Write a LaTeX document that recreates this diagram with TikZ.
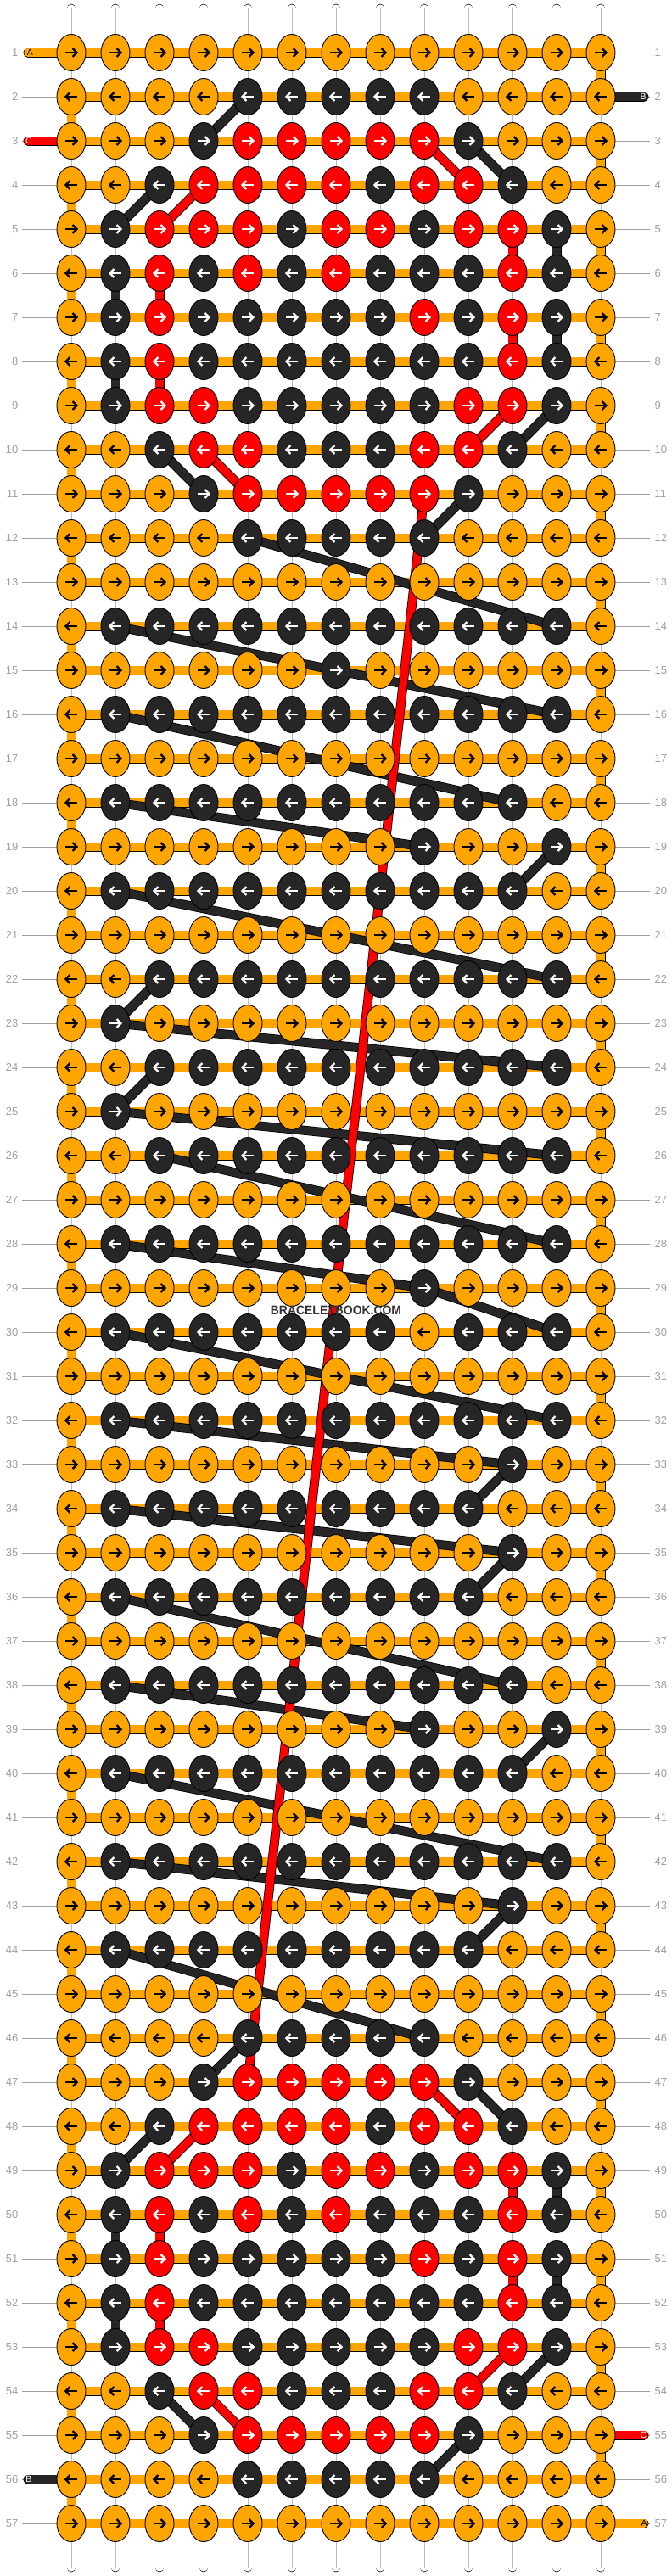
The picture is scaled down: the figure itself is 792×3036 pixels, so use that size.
\documentclass[tikz,border=0pt]{standalone}
\usepackage{fontspec}
\setmainfont{Liberation Sans}
\usetikzlibrary{shapes.geometric}
\definecolor{kcO}{HTML}{FFA500}
\definecolor{kcB}{HTML}{262626}
\definecolor{kcR}{HTML}{FF0000}
\definecolor{acO}{HTML}{000000}
\definecolor{acB}{HTML}{FFFFFF}
\definecolor{acR}{HTML}{FFFFFF}
\definecolor{labgray}{HTML}{A0A0A0}
\definecolor{strgray}{HTML}{BBBBBB}
\definecolor{wmgray}{HTML}{333333}
\tikzset{
  strO/.style={draw=black, line width=0.8pt, double=kcO, double distance=9.4pt},
  strB/.style={draw=black, line width=0.8pt, double=kcB, double distance=9.4pt},
  strR/.style={draw=black, line width=0.8pt, double=kcR, double distance=9.4pt},
  strW/.style={draw=black, line width=0.8pt, double=white, double distance=9.2pt, line cap=round},
  knot/.style={ellipse, draw=black, line width=0.9pt, minimum width=34pt, minimum height=43pt, inner sep=0pt},
  rowlab/.style={text=labgray, font=\fontsize{13}{13}\selectfont, inner sep=0pt},
  labline/.style={draw=labgray, line width=1pt},
  extlab/.style={font=\fontsize{10.5}{10.5}\selectfont, inner sep=0pt},
}
\begin{document}
\begin{tikzpicture}[x=1pt,y=-1pt]
\useasboundingbox (0,0) rectangle (792,3036);
\fill[white] (0,0) rectangle (792,3036);
% knot positions
\foreach \r in {1,...,57}{\foreach \cc in {1,...,13}{\coordinate (p\r-\cc) at ({32+52*\cc},{10+52*\r});}}
% white vertical strands
\foreach \cc in {1,...,13}{
  \coordinate (t\cc) at ({32+52*\cc},10);
  \coordinate (b\cc) at ({32+52*\cc},3026);
  \draw[strW] (t\cc) -- (b\cc);
  \draw[strgray, line width=0.7pt] (t\cc) -- (b\cc);
}
% label lines
\foreach \r in {1,...,57}{
  \pgfmathsetmacro\yy{10+52*\r}
  \coordinate (gl\r) at (26,\yy);
  \coordinate (gr\r) at (766,\yy);
  \draw[labline] (gl\r) -- (p\r-1);
  \draw[labline] (p\r-13) -- (gr\r);
}
% horizontal bands
\foreach \r in {1,...,57}{\draw[strO] (p\r-1) -- (p\r-13);}
% edge turns
\foreach \r [evaluate=\r as \rn using int(\r+1)] in {2,4,...,56}{\draw[strO] (p\r-1) -- (p\rn-1);}
\foreach \r [evaluate=\r as \rn using int(\r+1)] in {1,3,...,55}{\draw[strO] (p\r-13) -- (p\rn-13);}
% black strand
\foreach \ua/\ub in {2-5/3-4, 3-10/4-11, 4-3/5-2, 5-12/6-12, 6-2/7-2, 7-12/8-12, 8-2/9-2, 9-12/10-11, 10-3/11-4, 11-10/12-9, 12-5/14-12, 14-2/15-7, 15-7/16-12, 16-2/18-11, 18-2/19-9, 19-12/20-11, 20-2/22-12, 22-3/23-2, 23-2/24-12, 24-3/25-2, 25-2/26-12, 26-3/28-12, 28-2/29-9, 29-9/30-12, 30-2/32-12, 32-2/33-11, 33-11/34-10, 34-2/35-11, 35-11/36-10, 36-2/38-11, 38-2/39-9, 39-12/40-11, 40-2/42-12, 42-2/43-11, 43-11/44-10, 44-2/46-9, 46-5/47-4, 47-10/48-11, 48-3/49-2, 49-12/50-12, 50-2/51-2, 51-12/52-12, 52-2/53-2, 53-12/54-11, 54-3/55-4, 55-10/56-9}{\draw[strB] (p\ua) -- (p\ub);}
% red strand
\foreach \ua/\ub in {3-9/4-10, 4-4/5-3, 5-11/6-11, 6-3/7-3, 7-11/8-11, 8-3/9-3, 9-11/10-10, 10-4/11-5, 11-9/47-5, 47-9/48-10, 48-4/49-3, 49-11/50-11, 50-3/51-3, 51-11/52-11, 52-3/53-3, 53-11/54-10, 54-4/55-5}{\draw[strR] (p\ua) -- (p\ub);}
% strand ends
\coordinate (xA1) at (33,62);
\coordinate (xC3) at (33,166);
\coordinate (xB56) at (33,2922);
\coordinate (xB2) at (759,114);
\coordinate (xC55) at (759,2870);
\coordinate (xA57) at (759,2974);
\draw[strO, line cap=round] (xA1) -- (p1-1);
\draw[strR, line cap=round] (xC3) -- (p3-1);
\draw[strB, line cap=round] (xB56) -- (p56-1);
\draw[strB, line cap=round] (p2-13) -- (xB2);
\draw[strR, line cap=round] (p55-13) -- (xC55);
\draw[strO, line cap=round] (p57-13) -- (xA57);
\node[extlab, text=black] (lA1) at (35.5,62) {A};
\node[extlab, text=white] (lC3) at (34,166) {C};
\node[extlab, text=white] (lB56) at (34,2922) {B};
\node[extlab, text=white] (lB2) at (758,114) {B};
\node[extlab, text=white] (lC55) at (758.5,2870) {C};
\node[extlab, text=black] (lA57) at (759,2974) {A};
% knots
\foreach \r/\s in {
1/{O,O,O,O,O,O,O,O,O,O,O,O,O},
2/{O,O,O,O,B,B,B,B,B,O,O,O,O},
3/{O,O,O,B,R,R,R,R,R,B,O,O,O},
4/{O,O,B,R,R,R,R,B,R,R,B,O,O},
5/{O,B,R,R,R,B,R,R,B,R,R,B,O},
6/{O,B,R,B,R,B,R,B,B,B,R,B,O},
7/{O,B,R,B,B,B,B,B,R,B,R,B,O},
8/{O,B,R,B,B,B,B,B,B,B,R,B,O},
9/{O,B,R,R,B,B,B,B,B,R,R,B,O},
10/{O,O,B,R,R,B,B,B,R,R,B,O,O},
11/{O,O,O,B,R,R,R,R,R,B,O,O,O},
12/{O,O,O,O,B,B,B,B,B,O,O,O,O},
13/{O,O,O,O,O,O,O,O,O,O,O,O,O},
14/{O,B,B,B,B,B,B,B,B,B,B,B,O},
15/{O,O,O,O,O,O,B,O,O,O,O,O,O},
16/{O,B,B,B,B,B,B,B,B,B,B,B,O},
17/{O,O,O,O,O,O,O,O,O,O,O,O,O},
18/{O,B,B,B,B,B,B,B,B,B,B,O,O},
19/{O,O,O,O,O,O,O,O,B,O,O,B,O},
20/{O,B,B,B,B,B,B,B,B,B,B,O,O},
21/{O,O,O,O,O,O,O,O,O,O,O,O,O},
22/{O,O,B,B,B,B,B,B,B,B,B,B,O},
23/{O,B,O,O,O,O,O,O,O,O,O,O,O},
24/{O,O,B,B,B,B,B,B,B,B,B,B,O},
25/{O,B,O,O,O,O,O,O,O,O,O,O,O},
26/{O,O,B,B,B,B,B,B,B,B,B,B,O},
27/{O,O,O,O,O,O,O,O,O,O,O,O,O},
28/{O,B,B,B,B,B,B,B,B,B,B,B,O},
29/{O,O,O,O,O,O,O,O,B,O,O,O,O},
30/{O,B,B,B,B,B,B,B,O,B,B,B,O},
31/{O,O,O,O,O,O,O,O,O,O,O,O,O},
32/{O,B,B,B,B,B,B,B,B,B,B,B,O},
33/{O,O,O,O,O,O,O,O,O,O,B,O,O},
34/{O,B,B,B,B,B,B,B,B,B,O,O,O},
35/{O,O,O,O,O,O,O,O,O,O,B,O,O},
36/{O,B,B,B,B,B,B,B,B,B,O,O,O},
37/{O,O,O,O,O,O,O,O,O,O,O,O,O},
38/{O,B,B,B,B,B,B,B,B,B,B,O,O},
39/{O,O,O,O,O,O,O,O,B,O,O,B,O},
40/{O,B,B,B,B,B,B,B,B,B,B,O,O},
41/{O,O,O,O,O,O,O,O,O,O,O,O,O},
42/{O,B,B,B,B,B,B,B,B,B,B,B,O},
43/{O,O,O,O,O,O,O,O,O,O,B,O,O},
44/{O,B,B,B,B,B,B,B,B,B,O,O,O},
45/{O,O,O,O,O,O,O,O,O,O,O,O,O},
46/{O,O,O,O,B,B,B,B,B,O,O,O,O},
47/{O,O,O,B,R,R,R,R,R,B,O,O,O},
48/{O,O,B,R,R,R,R,B,R,R,B,O,O},
49/{O,B,R,R,R,B,R,R,B,R,R,B,O},
50/{O,B,R,B,R,B,R,B,B,B,R,B,O},
51/{O,B,R,B,B,B,B,B,R,B,R,B,O},
52/{O,B,R,B,B,B,B,B,B,B,R,B,O},
53/{O,B,R,R,B,B,B,B,B,R,R,B,O},
54/{O,O,B,R,R,B,B,B,R,R,B,O,O},
55/{O,O,O,B,R,R,R,R,R,B,O,O,O},
56/{O,O,O,O,B,B,B,B,B,O,O,O,O},
57/{O,O,O,O,O,O,O,O,O,O,O,O,O}}{
  \ifodd\r\relax\def\dd{1}\else\def\dd{-1}\fi
  \foreach \k [count=\cc] in \s {
    \node[knot, fill=kc\k] (k\r-\cc) at (p\r-\cc) {};
    \begin{scope}[shift={(p\r-\cc)}, xscale=\dd]
      \draw[draw=ac\k, line width=2.3pt] (-7,0) -- (6,0);
      \draw[draw=ac\k, line width=2.3pt, miter limit=8] (1.6,-5) -- (6.6,0) -- (1.6,5);
    \end{scope}
  }
}
% row numbers
\foreach \r in {1,...,57}{
  \pgfmathsetmacro\yy{10+52*\r}
  \node[rowlab, anchor=east] (ll\r) at (21.5,\yy) {\r};
  \node[rowlab, anchor=west] (lr\r) at (771.5,\yy) {\r};
}
% watermark
\node[font=\fontsize{15}{15}\selectfont\bfseries, text=wmgray, inner sep=0pt] (wm) at (396,1544) {\scalebox{0.93}[1]{BRACELETBOOK.COM}};
\end{tikzpicture}
\end{document}
